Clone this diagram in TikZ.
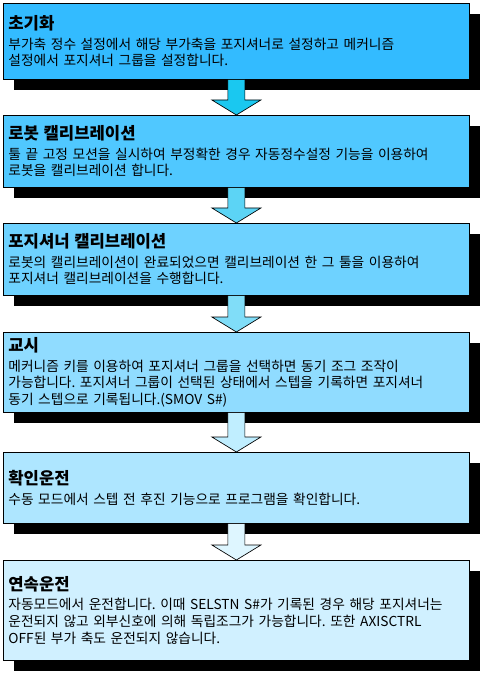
\documentclass[tikz,border=0pt]{standalone}
\usepackage{fontspec}
\setmainfont{Noto Sans CJK KR}
\usepackage{tikz}
\usetikzlibrary{positioning,calc,shadows}
\definecolor{boxa}{HTML}{33BBFF}
\definecolor{boxb}{HTML}{50C8FF}
\definecolor{boxc}{HTML}{6ED2FF}
\definecolor{boxd}{HTML}{90DCFF}
\definecolor{boxe}{HTML}{AEE6FF}
\definecolor{boxf}{HTML}{D0F0FF}
\definecolor{arra}{HTML}{1AC8F0}
\definecolor{arrb}{HTML}{5CD4F5}
\definecolor{arrc}{HTML}{80DDF8}
\definecolor{arrd}{HTML}{C0EEFF}
\definecolor{arre}{HTML}{DEF6FF}
\frenchspacing

\begin{document}
\begin{tikzpicture}[x=0.75pt, y=-0.75pt,
  stepbox/.style={draw=black, line width=0.6pt, anchor=north west, align=left,
    text width=342pt, inner xsep=3.75pt, inner ysep=2pt,
    font=\fontsize{10.3}{12.5}\selectfont,
    drop shadow={shadow xshift=8.25pt, shadow yshift=-8.25pt, opacity=1, fill=black}},
  flowarrow/.style={draw=black, line width=0.5pt}]

\useasboundingbox (0,0) rectangle (484,677);

\node[stepbox, fill=boxa, minimum height=57pt] (init) at (3,3)
  {{\fontsize{12.5}{14}\selectfont\bfseries 초기화}\\[2pt]
   부가축 정수 설정에서 해당 부가축을 포지셔너로 설정하고 메커니즘\\
   설정에서 포지셔너 그룹을 설정합니다.};

\node[stepbox, fill=boxb, minimum height=54pt] (robcal) at (3,115)
  {{\fontsize{12.5}{14}\selectfont\bfseries 로봇 캘리브레이션}\\[2pt]
   툴 끝 고정 모션을 실시하여 부정확한 경우 자동정수설정 기능을 이용하여\\
   로봇을 캘리브레이션 합니다.};

\node[stepbox, fill=boxc, minimum height=54pt] (poscal) at (3,223)
  {{\fontsize{12.5}{14}\selectfont\bfseries 포지셔너 캘리브레이션}\\[2pt]
   로봇의 캘리브레이션이 완료되었으면 캘리브레이션 한 그 툴을 이용하여\\
   포지셔너 캘리브레이션을 수행합니다.};

\node[stepbox, fill=boxd, minimum height=60pt] (teach) at (3,332)
  {{\fontsize{12.5}{14}\selectfont\bfseries 교시}\\[2pt]
   메커니즘 키를 이용하여 포지셔너 그룹을 선택하면 동기 조그 조작이\\
   가능합니다. 포지셔너 그룹이 선택된 상태에서 스텝을 기록하면 포지셔너\\
   동기 스텝으로 기록됩니다.(SMOV S\#)};

\node[stepbox, fill=boxe, minimum height=53.25pt] (check) at (3,452)
  {{\fontsize{12.5}{14}\selectfont\bfseries 확인운전}\\[2pt]
   수동 모드에서 스텝 전 후진 기능으로 프로그램을 확인합니다.};

\node[stepbox, fill=boxf, minimum height=75pt] (auto) at (3,560)
  {{\fontsize{12.5}{14}\selectfont\bfseries 연속운전}\\[2pt]
   \mbox{자동모드에서 운전합니다. 이때 SELSTN S\#가 기록된 경우 해당 포지셔너는}\\
   운전되지 않고 외부신호에 의해 독립조그가 가능합니다. 또한 AXISCTRL\\
   OFF된 부가 축도 운전되지 않습니다.};

\filldraw[flowarrow, fill=arra] ($(init.south)+(-8.5,0)$) -- ($(robcal.north)+(-8.5,-15)$) -- ($(robcal.north)+(-24.5,-15)$) -- (robcal.north) -- ($(robcal.north)+(24.5,-15)$) -- ($(robcal.north)+(8.5,-15)$) -- ($(init.south)+(8.5,0)$);
\filldraw[flowarrow, fill=arrb] ($(robcal.south)+(-8.5,0)$) -- ($(poscal.north)+(-8.5,-15)$) -- ($(poscal.north)+(-24.5,-15)$) -- (poscal.north) -- ($(poscal.north)+(24.5,-15)$) -- ($(poscal.north)+(8.5,-15)$) -- ($(robcal.south)+(8.5,0)$);
\filldraw[flowarrow, fill=arrc] ($(poscal.south)+(-8.5,0)$) -- ($(teach.north)+(-8.5,-15)$) -- ($(teach.north)+(-24.5,-15)$) -- (teach.north) -- ($(teach.north)+(24.5,-15)$) -- ($(teach.north)+(8.5,-15)$) -- ($(poscal.south)+(8.5,0)$);
\filldraw[flowarrow, fill=arrd] ($(teach.south)+(-8.5,0)$) -- ($(check.north)+(-8.5,-15)$) -- ($(check.north)+(-24.5,-15)$) -- (check.north) -- ($(check.north)+(24.5,-15)$) -- ($(check.north)+(8.5,-15)$) -- ($(teach.south)+(8.5,0)$);
\filldraw[flowarrow, fill=arre] ($(check.south)+(-8.5,0)$) -- ($(auto.north)+(-8.5,-15)$) -- ($(auto.north)+(-24.5,-15)$) -- (auto.north) -- ($(auto.north)+(24.5,-15)$) -- ($(auto.north)+(8.5,-15)$) -- ($(check.south)+(8.5,0)$);

\end{tikzpicture}
\end{document}
